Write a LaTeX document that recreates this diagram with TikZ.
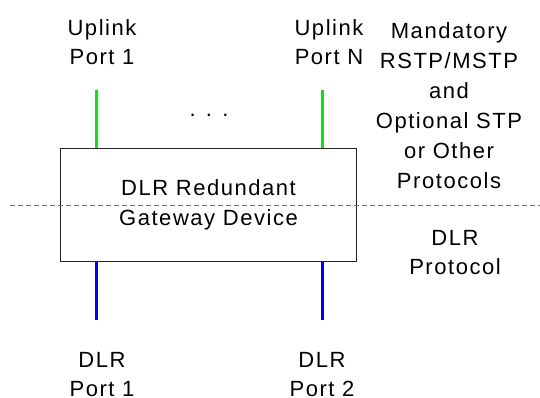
\documentclass[tikz,border=0pt]{standalone}
\usepackage{fontspec}
\newfontfamily\uifont[LetterSpace=7]{Liberation Sans}
\definecolor{upgreen}{RGB}{10,230,10}
\definecolor{dlrblue}{RGB}{0,0,250}
\definecolor{dashgray}{RGB}{110,110,110}
\begin{document}
\begin{tikzpicture}[x=1pt,y=-1pt,
  lbl/.style={font=\uifont\fontsize{22}{29.5}\selectfont, align=center, inner sep=0pt, anchor=base},
  devbox/.style={draw=black!85, line width=1pt, minimum width=296pt, minimum height=113.5pt, inner sep=0pt,
    font=\uifont\fontsize{22}{29.5}\selectfont, align=center},
  uplinkline/.style={draw=upgreen, line width=3pt},
  dlrline/.style={draw=dlrblue, line width=3pt},
  sepline/.style={draw=dashgray, line width=0.9pt, dash pattern=on 5pt off 3pt}
]
\useasboundingbox (0,0) rectangle (540,398);

\node[devbox] (box) at (208.5,204.8) {DLR Redundant\\Gateway Device};

\coordinate (sepL) at (10,205);
\coordinate (sepR) at (540,205);
\draw[sepline] (sepL) -- (sepR);

\coordinate (u1) at (96,90);
\coordinate (uN) at (322,90);
\coordinate (d1) at (96,320);
\coordinate (d2) at (322,320);
\draw[uplinkline] (u1) -- (u1 |- box.north);
\draw[uplinkline] (uN) -- (uN |- box.north);
\draw[dlrline] (box.south -| d1) -- (d1);
\draw[dlrline] (box.south -| d2) -- (d2);

% anchor=base is the baseline of the last line
\node[lbl] (up1) at (102,65) {Uplink\\Port 1};
\node[lbl] (upN) at (329,65) {Uplink\\Port N};
\node[lbl] (dots) at (209,117) {. . .};
\node[lbl, font=\uifont\fontsize{22}{29}\selectfont] (dp1) at (102,396) {DLR\\Port 1};
\node[lbl, font=\uifont\fontsize{22}{29}\selectfont] (dp2) at (322,396) {DLR\\Port 2};

\node[lbl, font=\uifont\fontsize{22}{29.8}\selectfont] (mand) at (449,188) {Mandatory\\RSTP/MSTP\\and\\Optional STP\\or Other\\Protocols};
\node[lbl, font=\uifont\fontsize{22}{29}\selectfont] (dlrp) at (455,274) {DLR\\Protocol};
\end{tikzpicture}
\end{document}
